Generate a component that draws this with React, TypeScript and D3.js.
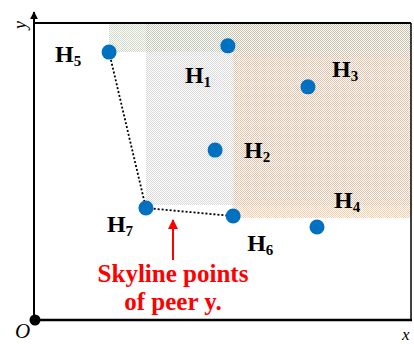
import React from 'react'
import * as d3 from 'd3'

// points in chart units (x: 0..10, y: 0..10)
const names = ['H1', 'H2', 'H3', 'H4', 'H5', 'H6', 'H7']
const xs = [5.13, 4.79, 7.26, 7.5, 1.97, 5.27, 2.95]
const ys = [9.23, 5.72, 7.85, 3.13, 9.02, 3.5, 3.77]

// skyline points, in path order
const skyline = ['H5', 'H7', 'H6']

const W = 414
const H = 344

// label placement relative to each point (pixels)
const labelOffset: Record<string, [number, number]> = {
  H1: [-43, 37],
  H2: [29, 8],
  H3: [24, -10],
  H4: [17, -19],
  H5: [-54, 10],
  H6: [14, 35],
  H7: [-39, 24]
}

// checkerboard fills (white + one colour), like the dithered original
const fills: [string, string][] = [
  ['pGray', '#d9d9d9'],
  ['pOrange', '#e2c3aa'],
  ['pLight', '#f6cdab'],
  ['pGreenA', '#d2d8c6'],
  ['pGreenB', '#c3c9b6'],
  ['pBeige', '#c7bea7']
]

const App: React.FC = () => {
  const x = d3.scaleLinear().domain([0, 10]).range([35, 411])
  const y = d3.scaleLinear().domain([0, 10]).range([320, 23])

  const pts = names.map((n, i) => ({ name: n, x: xs[i], y: ys[i] }))
  const byName = (n: string) => pts.find(p => p.name === n)!
  const sky = skyline.map(byName)
  const [h5, h7, h6] = sky

  const line = d3.line<{ x: number; y: number }>()
    .x(d => x(d.x))
    .y(d => y(d.y))

  const right = x(10)
  const top = y(10)

  // dominance regions, split where they overlap
  const regions = [
    { x0: x(h7.x), x1: x(h6.x), y0: y(h5.y), y1: y(h7.y) - 3, f: 'pGray' },
    { x0: x(h6.x), x1: right, y0: y(h5.y), y1: y(h7.y) - 3, f: 'pOrange' },
    { x0: x(h6.x), x1: right, y0: y(h7.y) - 3, y1: y(h6.y) + 2, f: 'pLight' },
    { x0: x(h5.x), x1: x(h7.x), y0: top, y1: y(h5.y), f: 'pGreenA' },
    { x0: x(h7.x), x1: x(h6.x), y0: top, y1: y(h5.y), f: 'pGreenB' },
    { x0: x(h6.x), x1: right, y0: top, y1: y(h5.y), f: 'pBeige' }
  ]

  const serif = '"Liberation Serif", "Times New Roman", serif'

  return (
    <svg width={W} height={H} style={{ position: 'absolute', left: 0, top: 0, background: '#fff' }}>
      <defs>
        {fills.map(([id, c]) => (
          <pattern key={id} id={id} x={0} y={0} width="2" height="2" patternUnits="userSpaceOnUse">
            <rect width="2" height="2" fill="#fff" />
            <rect width="1" height="1" fill={c} shapeRendering="crispEdges" />
            <rect x="1" y="1" width="1" height="1" fill={c} shapeRendering="crispEdges" />
          </pattern>
        ))}
        <marker id="redArrow" viewBox="0 0 10 10" refX="9" refY="5" markerWidth="5" markerHeight="5" orient="auto">
          <path d="M0,0 L10,5 L0,10 z" fill="#ff0000" />
        </marker>
        <marker id="blackArrow" viewBox="0 0 10 10" refX="9" refY="5" markerWidth="4" markerHeight="5" orient="auto">
          <path d="M0,0 L10,5 L0,10 z" fill="#000" />
        </marker>
      </defs>

      {/* dominance regions */}
      {regions.map((r, i) => (
        <rect key={i} x={Math.round(r.x0)} y={Math.round(r.y0)}
          width={Math.round(r.x1 - r.x0)} height={Math.round(r.y1 - r.y0)}
          fill={`url(#${r.f})`} shapeRendering="crispEdges" />
      ))}

      {/* frame */}
      <line x1={34} y1={23} x2={411} y2={23} stroke="#000" strokeWidth={2} />
      <line x1={411} y1={23} x2={411} y2={320} stroke="#000" strokeWidth={1.5} />
      <line x1={34} y1={320} x2={412} y2={320} stroke="#000" strokeWidth={2.5} />
      <line x1={34} y1={320} x2={34} y2={12} stroke="#000" strokeWidth={2} markerEnd="url(#blackArrow)" />
      <circle cx={x(0)} cy={y(0)} r={5.5} fill="#000" />

      {/* skyline path */}
      <path d={line(sky) || ''} fill="none" stroke="#000" strokeWidth={1.8} strokeDasharray="2,2" />

      {/* points */}
      {pts.map(p => (
        <circle key={p.name} cx={x(p.x)} cy={y(p.y)} r={7.5} fill="#0070c0" />
      ))}

      {/* labels */}
      {pts.map(p => {
        const [dx, dy] = labelOffset[p.name]
        return (
          <text key={'l' + p.name} x={x(p.x) + dx} y={y(p.y) + dy} fontFamily={serif} fontWeight="bold" fontSize={24} fill="#000">
            H
            <tspan fontSize={15} dy={4}>{p.name.slice(1)}</tspan>
          </text>
        )
      })}

      {/* annotation */}
      <line x1={173} y1={260} x2={173} y2={220} stroke="#ff0000" strokeWidth={2} markerEnd="url(#redArrow)" />
      <text x={173} y={282} textAnchor="middle" fontFamily={serif} fontWeight="bold" fontSize={25} fill="#ff0000">
        Skyline points
      </text>
      <text x={173} y={310} textAnchor="middle" fontFamily={serif} fontWeight="bold" fontSize={25} fill="#ff0000">
        of peer y.
      </text>

      {/* axis letters */}
      <text x={15} y={338} fontFamily={serif} fontStyle="italic" fontSize={21} fill="#000">O</text>
      <text x={402} y={340} fontFamily={serif} fontStyle="italic" fontSize={17} fill="#000">x</text>
      <text x={0} y={0} transform="translate(26,29) rotate(-90)" fontFamily={serif} fontStyle="italic" fontSize={18} fill="#000">y</text>
    </svg>
  )
}

export default App
